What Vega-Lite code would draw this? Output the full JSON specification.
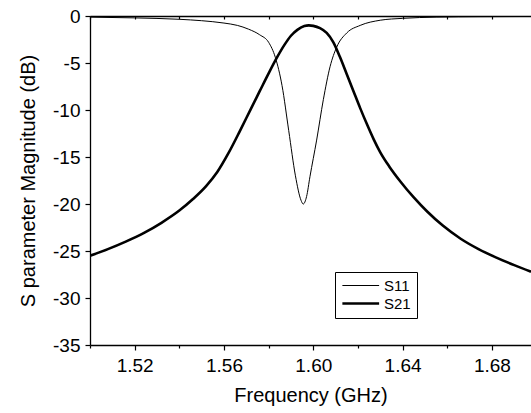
{
  "$schema": "https://vega.github.io/schema/vega-lite/v6.json",
  "width": 441,
  "height": 329,
  "autosize": "none",
  "padding": {"left": 90, "top": 16, "right": 0, "bottom": 68},
  "background": "white",
  "config": {
    "view": {"stroke": null},
    "font": "Liberation Sans",
    "axis": {
      "domainColor": "black",
      "domainWidth": 1.3,
      "tickColor": "black",
      "tickWidth": 1.2,
      "labelColor": "black",
      "titleColor": "black",
      "titleFontWeight": "normal",
      "labelFontSize": 19,
      "titleFontSize": 20,
      "grid": false
    }
  },
  "data": {
    "values": [
      {"f": 1.500, "db": -25.5, "series": "S21"},
      {"f": 1.508, "db": -24.8, "series": "S21"},
      {"f": 1.516, "db": -24.0, "series": "S21"},
      {"f": 1.524, "db": -23.1, "series": "S21"},
      {"f": 1.532, "db": -22.0, "series": "S21"},
      {"f": 1.540, "db": -20.7, "series": "S21"},
      {"f": 1.546, "db": -19.5, "series": "S21"},
      {"f": 1.552, "db": -18.1, "series": "S21"},
      {"f": 1.557, "db": -16.6, "series": "S21"},
      {"f": 1.562, "db": -14.6, "series": "S21"},
      {"f": 1.567, "db": -12.3, "series": "S21"},
      {"f": 1.572, "db": -9.9, "series": "S21"},
      {"f": 1.576, "db": -8.0, "series": "S21"},
      {"f": 1.580, "db": -6.1, "series": "S21"},
      {"f": 1.584, "db": -4.3, "series": "S21"},
      {"f": 1.587, "db": -3.1, "series": "S21"},
      {"f": 1.590, "db": -2.1, "series": "S21"},
      {"f": 1.593, "db": -1.45, "series": "S21"},
      {"f": 1.596, "db": -1.07, "series": "S21"},
      {"f": 1.598, "db": -1.0, "series": "S21"},
      {"f": 1.600, "db": -1.05, "series": "S21"},
      {"f": 1.603, "db": -1.3, "series": "S21"},
      {"f": 1.606, "db": -1.8, "series": "S21"},
      {"f": 1.609, "db": -2.8, "series": "S21"},
      {"f": 1.612, "db": -4.4, "series": "S21"},
      {"f": 1.615, "db": -6.2, "series": "S21"},
      {"f": 1.618, "db": -8.0, "series": "S21"},
      {"f": 1.621, "db": -9.8, "series": "S21"},
      {"f": 1.624, "db": -11.5, "series": "S21"},
      {"f": 1.627, "db": -13.1, "series": "S21"},
      {"f": 1.630, "db": -14.5, "series": "S21"},
      {"f": 1.634, "db": -16.0, "series": "S21"},
      {"f": 1.639, "db": -17.6, "series": "S21"},
      {"f": 1.645, "db": -19.3, "series": "S21"},
      {"f": 1.651, "db": -20.8, "series": "S21"},
      {"f": 1.658, "db": -22.3, "series": "S21"},
      {"f": 1.666, "db": -23.7, "series": "S21"},
      {"f": 1.674, "db": -24.8, "series": "S21"},
      {"f": 1.682, "db": -25.7, "series": "S21"},
      {"f": 1.690, "db": -26.5, "series": "S21"},
      {"f": 1.6975, "db": -27.2, "series": "S21"},
      {"f": 1.500, "db": -0.12, "series": "S11"},
      {"f": 1.520, "db": -0.2, "series": "S11"},
      {"f": 1.540, "db": -0.35, "series": "S11"},
      {"f": 1.550, "db": -0.5, "series": "S11"},
      {"f": 1.560, "db": -0.75, "series": "S11"},
      {"f": 1.566, "db": -1.0, "series": "S11"},
      {"f": 1.571, "db": -1.4, "series": "S11"},
      {"f": 1.576, "db": -2.0, "series": "S11"},
      {"f": 1.580, "db": -2.8, "series": "S11"},
      {"f": 1.583, "db": -4.4, "series": "S11"},
      {"f": 1.586, "db": -7.4, "series": "S11"},
      {"f": 1.589, "db": -12.2, "series": "S11"},
      {"f": 1.592, "db": -17.0, "series": "S11"},
      {"f": 1.5945, "db": -19.6, "series": "S11"},
      {"f": 1.5955, "db": -20.0, "series": "S11"},
      {"f": 1.597, "db": -19.2, "series": "S11"},
      {"f": 1.5985, "db": -17.1, "series": "S11"},
      {"f": 1.6015, "db": -13.2, "series": "S11"},
      {"f": 1.6045, "db": -8.9, "series": "S11"},
      {"f": 1.6075, "db": -5.4, "series": "S11"},
      {"f": 1.6105, "db": -3.3, "series": "S11"},
      {"f": 1.615, "db": -1.8, "series": "S11"},
      {"f": 1.621, "db": -1.0, "series": "S11"},
      {"f": 1.630, "db": -0.45, "series": "S11"},
      {"f": 1.640, "db": -0.25, "series": "S11"},
      {"f": 1.655, "db": -0.12, "series": "S11"},
      {"f": 1.675, "db": -0.07, "series": "S11"},
      {"f": 1.6975, "db": -0.05, "series": "S11"}
    ]
  },
  "layer": [
    {
      "mark": {"type": "line", "color": "black", "clip": true, "interpolate": "monotone"},
      "encoding": {
        "x": {
          "field": "f", "type": "quantitative",
          "scale": {"domain": [1.5, 1.6975], "nice": false, "zero": false},
          "axis": {
            "orient": "bottom",
            "title": "Frequency (GHz)",
            "values": [1.50, 1.52, 1.54, 1.56, 1.58, 1.60, 1.62, 1.64, 1.66, 1.68],
            "labelExpr": "round(datum.value*100) % 4 == 0 ? format(datum.value, '.2f') : ''",
            "tickSize": {"condition": {"test": "round(datum.value*100) % 4 == 0", "value": 5}, "value": 3},
            "labelPadding": 6,
            "titlePadding": 10,
            "labelFlush": false
          }
        },
        "y": {
          "field": "db", "type": "quantitative",
          "scale": {"domain": [-35, 0], "nice": false, "zero": false},
          "axis": {
            "title": "S parameter Magnitude (dB)",
            "values": [-35, -32.5, -30, -27.5, -25, -22.5, -20, -17.5, -15, -12.5, -10, -7.5, -5, -2.5, 0],
            "labelExpr": "datum.value % 5 == 0 ? '' + datum.value : ''",
            "tickSize": {"condition": {"test": "datum.value % 5 == 0", "value": 5}, "value": 3},
            "labelPadding": 5,
            "titlePadding": 14,
            "labelFlush": false
          }
        },
        "strokeWidth": {
          "field": "series", "type": "nominal",
          "scale": {"domain": ["S11", "S21"], "range": [1, 2.6]},
          "legend": {
            "title": null,
            "orient": "none",
            "legendX": 245,
            "legendY": 256,
            "strokeColor": "black",
            "fillColor": "white",
            "padding": 6,
            "symbolType": "M-1,0H5",
            "symbolSize": 150,
            "symbolStrokeColor": "black",
            "labelFontSize": 15,
            "labelColor": "black",
            "labelOffset": 28,
            "rowPadding": 2
          }
        }
      }
    },
    {
      "mark": {"type": "line", "opacity": 0},
      "encoding": {
        "x": {
          "field": "f", "type": "quantitative",
          "axis": {
            "orient": "top",
            "title": null,
            "values": [1.50, 1.52, 1.54, 1.56, 1.58, 1.60, 1.62, 1.64, 1.66, 1.68],
            "labels": false,
            "tickSize": -3
          }
        },
        "y": {"field": "db", "type": "quantitative"},
        "detail": {"field": "series"}
      }
    }
  ],
  "resolve": {"axis": {"x": "independent"}}
}
